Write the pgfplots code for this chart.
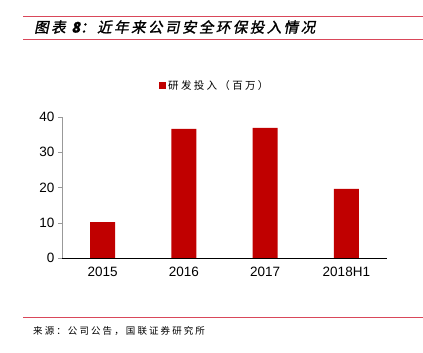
\documentclass[border=0pt]{standalone}
\usepackage{fontspec}
\setmainfont{Liberation Sans}
\newfontfamily\cjk{Noto Sans CJK SC}
\newfontfamily\cjksp[LetterSpace=22]{Noto Sans CJK SC}
\newfontfamily\cjkti[FakeSlant=0.2,FakeBold=1.5,LetterSpace=17]{Noto Sans CJK SC}
\usepackage{pgfplots}
\pgfplotsset{compat=1.18}
\definecolor{barred}{HTML}{C00000}
\definecolor{linered}{HTML}{D9475A}
\begin{document}
\begin{tikzpicture}
\useasboundingbox (0pt,0pt) rectangle (423pt,353pt);
\draw[linered,line width=1pt] (23pt,336pt) -- (423pt,336pt);
\draw[linered,line width=1pt] (23pt,313pt) -- (423pt,313pt);
\draw[linered,line width=0.8pt] (23pt,36pt) -- (423pt,36pt);
\node[anchor=west,inner sep=0] at (34pt,326pt) {\fontsize{14.5}{16}\selectfont\cjkti 图表 {\itshape\bfseries 8}：近年来公司安全环保投入情况};
\node[anchor=west,inner sep=0] at (33pt,22pt) {\fontsize{9.5}{11}\selectfont\cjksp 来源：公司公告，国联证券研究所};
\begin{axis}[
  at={(62pt,95pt)}, anchor=south west,
  scale only axis, width=325pt, height=141pt,
  xmin=-0.5, xmax=3.5, ymin=0, ymax=40,
  axis x line*=bottom, axis y line*=left,
  x axis line style={black, -}, y axis line style={gray!80, -},
  xtick={0,1,2,3}, xticklabels={2015,2016,2017,2018H1},
  major x tick style={draw=none},
  extra x ticks={-0.5,0.5,1.5,2.5,3.5}, extra x tick labels={},
  extra x tick style={tick style={black}, major tick length=4pt},
  ytick={0,10,20,30,40},
  tick align=outside, major tick length=4pt,
  y tick style={gray!80},
  tick label style={font=\fontsize{13.5}{15}\selectfont},
  xticklabel style={yshift=-2pt},
  /pgf/number format/assume math mode=true,
  ybar, bar width=25pt,
  legend style={at={(0.47,1.22)}, anchor=center, draw=none, font=\fontsize{10.5}{12}\selectfont\cjksp},
  legend image code/.code={\fill[barred] (0cm,-0.1cm) rectangle (0.25cm,0.15cm);},
]
\addplot[fill=barred, draw=none] coordinates {(0,10.2) (1,36.6) (2,36.9) (3,19.6)};
\addlegendentry{研发投入（百万）}
\end{axis}
\end{tikzpicture}
\end{document}
